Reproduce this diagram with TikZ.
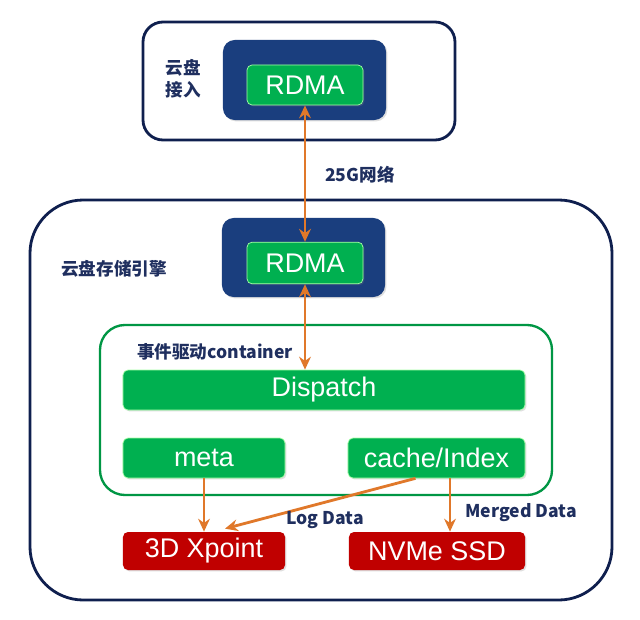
\documentclass[tikz,border=0pt]{standalone}
\usepackage{fontspec}
\setmainfont{Liberation Sans}
\newfontfamily\cjk{Noto Sans CJK SC}
\usetikzlibrary{arrows.meta,shadows,calc}
\definecolor{navy}{HTML}{1A3E7E}
\definecolor{frame}{HTML}{0F1F4E}
\definecolor{gbox}{HTML}{00B050}
\definecolor{rbox}{HTML}{C00000}
\definecolor{orng}{HTML}{E0782A}
\definecolor{lbl}{HTML}{1F2F5F}
\tikzset{
  shad/.style={drop shadow={opacity=0.25,shadow xshift=1.2pt,shadow yshift=-1.2pt}},
  outerbox/.style={draw=frame,line width=2.4pt,fill=white,rectangle},
  navybox/.style={fill=navy,rectangle,rounded corners=0.35cm,shad},
  greenbox/.style={fill=gbox,draw=green!35!white,line width=0.6pt,rectangle,rounded corners=0.15cm,text=white,font=\fontsize{23}{26}\selectfont,minimum height=1.2cm,shad,inner sep=0pt},
  redbox/.style={greenbox,fill=rbox,draw=none},
  cont/.style={draw=gbox!85!black,line width=2pt,rectangle,rounded corners=0.75cm,fill=white},
  lab/.style={text=lbl,font=\cjk\bfseries\fontsize{15}{19}\selectfont,inner sep=0pt},
  arr/.style={draw=orng,line width=2.4pt,-{Stealth[length=11pt,width=10pt]}},
  darr/.style={arr,{Stealth[length=11pt,width=10pt]}-{Stealth[length=11pt,width=10pt]}}
}
\begin{document}
\begin{tikzpicture}[x=0.03cm,y=-0.03cm]
\useasboundingbox (0,0) rectangle (640,620);
% top box
\node[outerbox,rounded corners=0.6cm,minimum width=9.36cm,minimum height=3.54cm] (top) at (299,81) {};
\node[navybox,minimum width=4.89cm,minimum height=2.4cm] (nav1) at (304.5,80) {};
\node[greenbox,minimum width=3.48cm] (rdma1) at (305,85) {RDMA};
\node[lab,align=left] (l1) at (183,79) {云盘\\接入};
% big box
\node[outerbox,rounded corners=1.6cm,minimum width=17.46cm,minimum height=12.0cm] (big) at (321,400) {};
\node[navybox,minimum width=4.89cm,minimum height=2.37cm] (nav2) at (303.5,257.5) {};
\node[greenbox,minimum width=3.48cm,minimum height=1.25cm] (rdma2) at (305,263) {RDMA};
\node[lab] (l2) at (114,269) {云盘存储引擎};
\node[lab] (l25) at (360,175) {25G网络};
% container
\node[cont,minimum width=13.56cm,minimum height=5.1cm] (ct) at (326,410) {};
\node[lab,anchor=west] (l3) at (137,352) {事件驱动container};
\node[greenbox,minimum width=12.06cm] (disp) at (324,390) {Dispatch};
\node[greenbox,minimum width=4.86cm] (meta) at (204,458) {meta};
\node[greenbox,minimum width=5.31cm] (cache) at (436.5,458) {cache/Index};
\node[redbox,minimum width=4.86cm,minimum height=1.14cm] (xp) at (204,551) {3D Xpoint};
\node[redbox,minimum width=5.28cm,minimum height=1.14cm] (nvme) at (437,551) {NVMe SSD};
% arrows
\draw[darr] (rdma1.south) -- (rdma2.north);
\draw[darr] (rdma2.south) -- (rdma2.south |- disp.north);
\draw[arr] (meta.south) -- (xp.north);
\coordinate (cs) at ($(cache.south)+(-21,0)$);
\coordinate (xe) at ($(xp.north)+(21,-3)$);
\draw[arr] (cs) -- (xe);
\coordinate (cs2) at ($(cache.south)+(13.5,0)$);
\draw[arr] (cs2) -- (cs2 |- nvme.north);
\node[lab] (ld) at (325,520) {Log Data};
\node[lab] (md) at (521,513) {Merged Data};
\end{tikzpicture}
\end{document}
